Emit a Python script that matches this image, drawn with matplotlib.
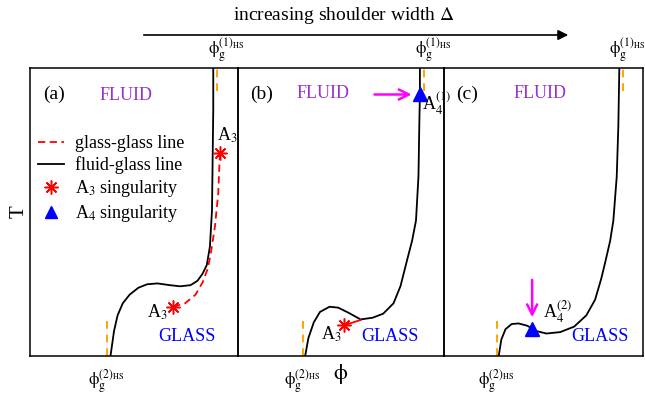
import numpy as np
import matplotlib
matplotlib.use('Agg')
import matplotlib.pyplot as plt
from matplotlib.lines import Line2D
from matplotlib.patches import FancyArrowPatch

plt.rcParams['font.family'] = ['Liberation Serif', 'DejaVu Serif']
plt.rcParams['mathtext.fontset'] = 'stix'

# fluid-glass lines (phi, T) in panel units
fg_a_x = [0.387, 0.404, 0.421, 0.446, 0.479, 0.521, 0.563, 0.613, 0.672, 0.722, 0.772, 0.805, 0.830, 0.850, 0.865, 0.875, 0.878, 0.881, 0.881]
fg_a_y = [0.000, 0.087, 0.141, 0.183, 0.213, 0.237, 0.249, 0.252, 0.246, 0.242, 0.246, 0.261, 0.286, 0.316, 0.380, 0.507, 0.680, 0.854, 1.000]
fg_b_x = [0.326, 0.342, 0.368, 0.398, 0.444, 0.486, 0.537, 0.595, 0.654, 0.705, 0.755, 0.789, 0.819, 0.845, 0.864, 0.876, 0.880, 0.883, 0.883]
fg_b_y = [0.000, 0.063, 0.117, 0.153, 0.171, 0.168, 0.150, 0.127, 0.133, 0.147, 0.183, 0.243, 0.328, 0.400, 0.470, 0.623, 0.796, 0.912, 1.000]
fg_c_x = [0.275, 0.288, 0.309, 0.340, 0.375, 0.419, 0.462, 0.515, 0.584, 0.654, 0.715, 0.759, 0.790, 0.811, 0.835, 0.851, 0.868, 0.876, 0.881]
fg_c_y = [0.000, 0.057, 0.093, 0.111, 0.113, 0.105, 0.087, 0.078, 0.083, 0.102, 0.141, 0.195, 0.268, 0.328, 0.400, 0.470, 0.623, 0.796, 1.000]

# glass-glass lines
gg_a_x = [0.688, 0.746, 0.796, 0.830, 0.855, 0.870, 0.889, 0.905, 0.913]
gg_a_y = [0.171, 0.183, 0.213, 0.256, 0.304, 0.360, 0.449, 0.565, 0.704]
gg_b_x = [0.516, 0.595]
gg_b_y = [0.107, 0.125]

# singularities
a3_a_x, a3_a_y = [0.688, 0.913], [0.171, 0.704]
a3_b_x, a3_b_y = [0.516], [0.107]
a4_b_x, a4_b_y = [0.883], [0.908]
a4_c_x, a4_c_y = [0.443], [0.093]

# hard-sphere glass transition positions
phi1_hs = [0.897, 0.905, 0.900]
phi2_hs = [0.371, 0.314, 0.265]

panel_names = ['(a)', '(b)', '(c)']

# panel geometry in figure pixels (left, right)
W, H = 645, 398
panels_px = [(30, 238), (238, 444), (444, 643)]
top_px, bot_px = 68, 356

fig = plt.figure(figsize=(W / 100, H / 100), dpi=100)
axes = []
for l, r in panels_px:
    ax = fig.add_axes([l / W, (H - bot_px) / H, (r - l) / W, (bot_px - top_px) / H])
    ax.set_xlim(0, 1)
    ax.set_ylim(0, 1)
    ax.set_xticks([])
    ax.set_yticks([])
    ax.set_facecolor('none')
    for s in ax.spines.values():
        s.set_linewidth(1.1)
    axes.append(ax)

orange = '#FFA500'
star = (8, 2, 0)
purple = '#9933CC'
px = 0.72  # points per pixel

for i, ax in enumerate(axes):
    ax.plot([phi1_hs[i], phi1_hs[i]], [0.92, 1.0], '--', color=orange, lw=1.4, dashes=(4, 3))
    ax.plot([phi2_hs[i], phi2_hs[i]], [0.0, 0.1375], '--', color=orange, lw=1.4, dashes=(4, 3))
    ax.text(0.115, 0.91, panel_names[i], fontsize=14, ha='center', va='center')
    ax.annotate(r'$\mathrm{\phi}_{\rm g}^{(1)_{\rm HS}}$', xy=(phi1_hs[i], 1.0), xycoords='axes fraction',
                xytext=((-14 if i == 2 else -9) * px, 4 * px), textcoords='offset points',
                fontsize=12, ha='left', va='bottom', annotation_clip=False)
    ax.annotate(r'$\mathrm{\phi}_{\rm g}^{(2)_{\rm HS}}$', xy=(phi2_hs[i], 0.0), xycoords='axes fraction',
                xytext=(-19 * px, -11 * px), textcoords='offset points',
                fontsize=12, ha='left', va='top', annotation_clip=False)

ax_a, ax_b, ax_c = axes

# panel (a)
ax_a.plot(fg_a_x, fg_a_y, color='black', lw=1.3)
ax_a.plot(gg_a_x, gg_a_y, '--', color='red', lw=1.3, dashes=(4, 2.5))
ax_a.plot(a3_a_x, a3_a_y, ls='none', marker=star, ms=10, mec='red', mew=1.1)
ax_a.text(0.462, 0.906, 'FLUID', color=purple, fontsize=13, ha='center', va='center')
ax_a.text(0.753, 0.066, 'GLASS', color='blue', fontsize=13, ha='center', va='center')
ax_a.text(0.899, 0.767, r'A$_3$', fontsize=13, ha='left', va='center')
ax_a.text(0.563, 0.150, r'A$_3$', fontsize=13, ha='left', va='center')
ax_a.set_ylabel('T', fontsize=15, labelpad=1)

handles = [Line2D([], [], color='red', ls='--', lw=1.3, dashes=(4, 2.5)),
           Line2D([], [], color='black', lw=1.3),
           Line2D([], [], color='red', ls='none', marker=star, ms=10, mew=1.1),
           Line2D([], [], color='blue', ls='none', marker='^', ms=9)]
labels = ['glass-glass line', 'fluid-glass line', r'A$_3$ singularity', r'A$_4$ singularity']
ax_a.legend(handles, labels, loc='upper left', bbox_to_anchor=(-0.02, 0.81), frameon=False,
            fontsize=13, handlelength=1.4, handletextpad=0.6, labelspacing=0.22, borderpad=0.2)

# panel (b)
ax_b.plot(fg_b_x, fg_b_y, color='black', lw=1.3)
ax_b.plot(gg_b_x, gg_b_y, '-', color='red', lw=1.3)
ax_b.plot(a3_b_x, a3_b_y, ls='none', marker=star, ms=10, mec='red', mew=1.1)
ax_b.plot(a4_b_x, a4_b_y, ls='none', marker='^', ms=10, color='blue')
ax_b.annotate('', xy=(0.856, 0.908), xytext=(0.649, 0.908),
              arrowprops=dict(arrowstyle='->', color='magenta', lw=1.8, mutation_scale=18))
ax_b.text(0.413, 0.910, 'FLUID', color=purple, fontsize=13, ha='center', va='center')
ax_b.text(0.738, 0.066, 'GLASS', color='blue', fontsize=13, ha='center', va='center')
ax_b.text(0.401, 0.075, r'A$_3$', fontsize=13, ha='left', va='center')
ax_b.text(0.893, 0.875, r'A$_4^{(1)}$', fontsize=13, ha='left', va='center', clip_on=False, zorder=5)
ax_b.set_xlabel(r'$\mathrm{\phi}$', fontsize=16, labelpad=4)

# panel (c)
ax_c.plot(fg_c_x, fg_c_y, color='black', lw=1.3)
ax_c.plot(a4_c_x, a4_c_y, ls='none', marker='^', ms=10, color='blue')
ax_c.annotate('', xy=(0.443, 0.125), xytext=(0.443, 0.274),
              arrowprops=dict(arrowstyle='->', color='magenta', lw=1.8, mutation_scale=18))
ax_c.text(0.485, 0.910, 'FLUID', color=purple, fontsize=13, ha='center', va='center')
ax_c.text(0.784, 0.066, 'GLASS', color='blue', fontsize=13, ha='center', va='center')
ax_c.text(0.497, 0.150, r'A$_4^{(2)}$', fontsize=13, ha='left', va='center')

# top arrow and title
fig.text(344 / W, 1 - 16 / H, r'increasing shoulder width $\Delta$', fontsize=14, ha='center', va='center')
fig.add_artist(FancyArrowPatch((141 / W, 1 - 35 / H), (571 / W, 1 - 35 / H),
                               transform=fig.transFigure, arrowstyle='-|>',
                               mutation_scale=15, color='black', lw=1.2))

fig.savefig('out.png', dpi=100)
